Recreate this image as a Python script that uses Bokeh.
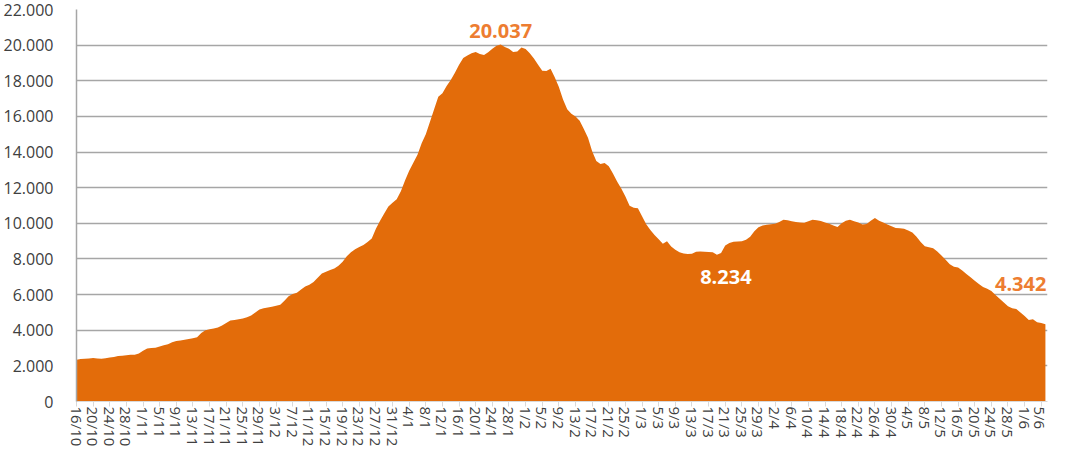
import math
import numpy as np
from bokeh.plotting import figure
from bokeh.models import ColumnDataSource, LabelSet, FixedTicker, Range1d
from bokeh.core.properties import value
from bokeh.embed import file_html
from bokeh.resources import INLINE

# ---- data: daily values from 16/10 to 6/6 ----
values = [
    2343, 2380, 2400, 2420, 2440, 2420, 2400, 2430, 2470, 2500,
    2550, 2570, 2590, 2620, 2630, 2700, 2850, 2980, 3000, 3010,
    3080, 3150, 3220, 3330, 3400, 3430, 3470, 3510, 3550, 3600,
    3850, 4000, 4050, 4090, 4150, 4260, 4400, 4550, 4580, 4610,
    4660, 4730, 4820, 5000, 5160, 5230, 5270, 5320, 5380, 5430,
    5650, 5900, 6040, 6100, 6280, 6450, 6550, 6700, 6950, 7180,
    7280, 7380, 7460, 7620, 7850, 8150, 8380, 8550, 8670, 8790,
    8950, 9150, 9700, 10150, 10550, 10950, 11150, 11350, 11800, 12400,
    12950, 13400, 13850, 14500, 15000, 15700, 16400, 17100, 17300, 17700,
    18050, 18450, 18900, 19280, 19420, 19550, 19620, 19500, 19450, 19600,
    19800, 19960, 20037, 19900, 19800, 19620, 19640, 19870, 19780, 19550,
    19250, 18900, 18560, 18550, 18680, 18200, 17650, 16950, 16400, 16150,
    16000, 15750, 15300, 14800, 14050, 13500, 13330, 13380, 13200, 12800,
    12350, 11950, 11500, 10980, 10880, 10850, 10400, 9950, 9620, 9350,
    9100, 8860, 9000, 8700, 8520, 8380, 8300, 8280, 8290, 8400,
    8420, 8400, 8390, 8370, 8234, 8330, 8750, 8900, 8960, 8980,
    8990, 9080, 9250, 9550, 9780, 9880, 9920, 9950, 9975, 10080,
    10200, 10170, 10110, 10070, 10040, 10030, 10110, 10200, 10170, 10130,
    10050, 9975, 9880, 9790, 10000, 10150, 10200, 10120, 10050, 9930,
    9960, 10150, 10300, 10150, 10050, 9930, 9830, 9740, 9720, 9690,
    9600, 9480, 9250, 8950, 8720, 8650, 8600, 8420, 8200, 7950,
    7700, 7560, 7520, 7350, 7150, 6980, 6780, 6600, 6420, 6330,
    6200, 5980, 5770, 5550, 5350, 5240, 5190, 5000, 4800, 4580,
    4620, 4450, 4400, 4342,
]
days = list(range(len(values)))

tick_labels = [
    "16/10", "20/10", "24/10", "28/10", "1/11", "5/11", "9/11", "13/11",
    "17/11", "21/11", "25/11", "29/11", "3/12", "7/12", "11/12", "15/12",
    "19/12", "23/12", "27/12", "31/12", "4/1", "8/1", "12/1", "16/1",
    "20/1", "24/1", "28/1", "1/2", "5/2", "9/2", "13/2", "17/2", "21/2",
    "25/2", "1/3", "5/3", "9/3", "13/3", "17/3", "21/3", "25/3", "29/3",
    "2/4", "6/4", "10/4", "14/4", "18/4", "22/4", "26/4", "30/4", "4/5",
    "8/5", "12/5", "16/5", "20/5", "24/5", "28/5", "1/6", "5/6",
]
tick_step = 4
y_ticks = [0, 2000, 4000, 6000, 8000, 10000, 12000, 14000, 16000, 18000, 20000, 22000]
y_tick_labels = ["0", "2.000", "4.000", "6.000", "8.000", "10.000", "12.000",
                 "14.000", "16.000", "18.000", "20.000", "22.000"]

FILL = "#E36C0A"
LABEL_ORANGE = "#ED7D31"
FONT = "Open Sans"

def fmt(v):
    return f"{v:,}".replace(",", ".")

p = figure(width=1049, height=449, output_backend="svg", toolbar_location=None,
           x_range=Range1d(0, len(values) - 0.5), y_range=Range1d(0, 22000),
           min_border_left=76, min_border_right=2, min_border_top=9,
           min_border_bottom=46)
p.outline_line_color = None
p.background_fill_color = "white"
p.border_fill_color = "white"

src = ColumnDataSource(dict(x=days, y=values))
p.varea(x="x", y1=0, y2="y", source=src, fill_color=FILL, fill_alpha=1.0)

# axes
xt = [i * tick_step for i in range(len(tick_labels))]
p.xaxis.ticker = FixedTicker(ticks=xt)
p.xaxis.major_label_overrides = {t: l for t, l in zip(xt, tick_labels)}
p.xaxis.major_label_orientation = -math.pi / 2
p.xaxis.minor_tick_line_color = None
p.xaxis.major_tick_in = 0
p.xaxis.major_tick_out = 5
p.xaxis.major_tick_line_color = "#D9D9D9"
p.xaxis.axis_line_color = "#D9D9D9"
p.xaxis.major_label_text_font = FONT
p.xaxis.major_label_text_font_size = "15px"
p.xaxis.major_label_text_color = "#404040"
p.xaxis.major_label_standoff = 0

p.yaxis.ticker = FixedTicker(ticks=y_ticks)
p.yaxis.major_label_overrides = {t: l for t, l in zip(y_ticks, y_tick_labels)}
p.yaxis.minor_tick_line_color = None
p.yaxis.major_tick_line_color = None
p.yaxis.axis_line_color = "#A6A6A6"
p.yaxis.axis_line_width = 1.5
p.yaxis.major_label_text_font = FONT
p.yaxis.major_label_text_font_size = "16px"
p.yaxis.major_label_text_color = "#404040"
p.yaxis.major_label_standoff = 17

p.xgrid.grid_line_color = None
p.ygrid.grid_line_color = "#A6A6A6"
p.ygrid.grid_line_width = 1.5
p.ygrid.level = "underlay"

# annotations
arr = np.array(values)
i_max = int(arr.argmax())
i_min = i_max + int(arr[i_max:i_max + 80].argmin())
i_end = len(values) - 1

common = dict(text_font=value(FONT), text_font_style="bold", text_font_size="20px")

peak_src = ColumnDataSource(dict(x=[i_max], y=[values[i_max]], t=[fmt(values[i_max])]))
p.add_layout(LabelSet(x="x", y="y", text="t", source=peak_src, text_align="center",
                      text_baseline="bottom", y_offset=6, text_color=LABEL_ORANGE, **common))
min_src = ColumnDataSource(dict(x=[i_min], y=[values[i_min]], t=[fmt(values[i_min])]))
p.add_layout(LabelSet(x="x", y="y", text="t", source=min_src, text_align="center",
                      text_baseline="middle", x_offset=9, y_offset=-22,
                      text_color="white", **common))
end_src = ColumnDataSource(dict(x=[i_end], y=[values[i_end]], t=[fmt(values[i_end])]))
p.add_layout(LabelSet(x="x", y="y", text="t", source=end_src, text_align="right",
                      text_baseline="middle", x_offset=1, y_offset=40,
                      text_color=LABEL_ORANGE, **common))

open("out.html", "w").write(file_html(p, INLINE))
